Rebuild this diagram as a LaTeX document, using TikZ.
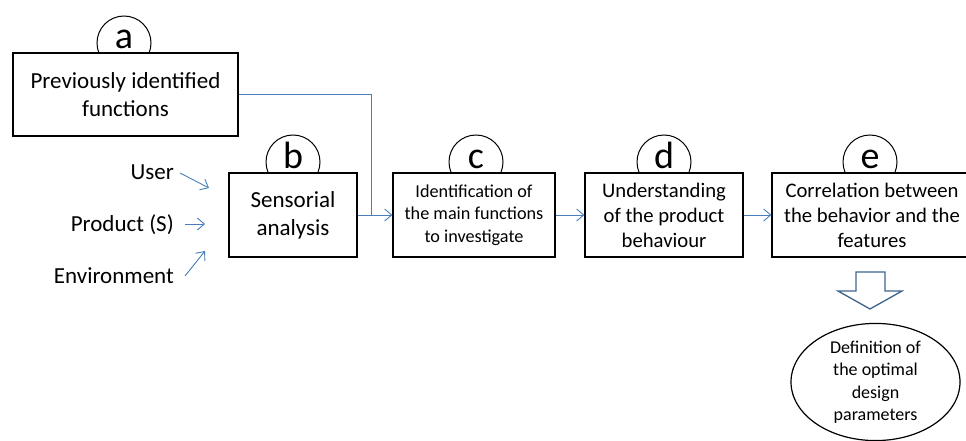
\documentclass[tikz,border=0pt]{standalone}
\usepackage{fontspec}
\setmainfont{Carlito}
\usetikzlibrary{arrows.meta,shapes.geometric}
\definecolor{lineblue}{HTML}{4A7EBB}
\definecolor{darkblue}{HTML}{3F6490}
\begin{document}
\begin{tikzpicture}[x=1pt,y=-1pt,
  box/.style={draw=black,line width=1.3pt,fill=white,rectangle,inner sep=0pt,align=center},
  letter/.style={draw=black,line width=1pt,circle,minimum size=54pt,inner sep=0pt,fill=white},
  lettertext/.style={anchor=base,font=\fontsize{38}{44}\selectfont,inner sep=0pt},
  lbl/.style={anchor=base east,font=\fontsize{23}{28}\selectfont,inner sep=0pt},
  conn/.style={draw=lineblue,line width=0.9pt},
  arr/.style={conn,-{Straight Barb[length=7pt,width=12pt,line width=0.9pt]}}
]
\useasboundingbox (0,0) rectangle (966,441);
% circles (behind boxes)
\node[letter] (ca) at (124,43) {};
\node[letter] (cb) at (293,162) {};
\node[letter] (cc) at (476,162) {};
\node[letter] (cd) at (664,162) {};
\node[letter] (ce) at (870,162) {};
\node[lettertext] (ta) at (124,49) {a};
\node[lettertext] (tb) at (293,168) {b};
\node[lettertext] (tc) at (476,168) {c};
\node[lettertext] (td) at (664,168) {d};
\node[lettertext] (te) at (870,168) {e};
% boxes
\node[box,minimum width=225pt,minimum height=83pt,font=\fontsize{23}{28}\selectfont] (boxa) at (125.5,94.5) {Previously identified\\functions};
\node[box,minimum width=128pt,minimum height=84pt,font=\fontsize{23}{28}\selectfont] (boxb) at (293,215) {Sensorial\\analysis};
\node[box,minimum width=162pt,minimum height=84pt,font=\fontsize{18.2}{22.5}\selectfont] (boxc) at (474,215) {Identification of\\the main functions\\to investigate};
\node[box,minimum width=158pt,minimum height=84pt,font=\fontsize{20.7}{25}\selectfont] (boxd) at (664,215) {Understanding\\of the product\\behaviour};
\node[box,minimum width=200pt,minimum height=84pt,font=\fontsize{20.7}{25}\selectfont] (boxe) at (872,215) {Correlation between\\the behavior and the\\features};
% inputs
\node[lbl] (user) at (174,179.5) {User};
\node[lbl] (prod) at (174,231.5) {Product (S)};
\node[lbl] (env) at (174,283.5) {Environment};
\coordinate (us) at (180,173);
\coordinate (ue) at (209,188);
\coordinate (ps) at (185,224);
\coordinate (pe) at (205,224);
\coordinate (es) at (185,276);
\coordinate (ee) at (205,251);
\draw[arr] (us) -- (ue);
\draw[arr] (ps) -- (pe);
\draw[arr] (es) -- (ee);
% connectors
\coordinate (j) at (371,215);
\draw[conn] (boxa.east) -| (j);
\draw[conn] (boxb.east) -- (j);
\draw[arr] (j) -- (boxc.west);
\draw[arr] (boxc.east) -- (boxd.west);
\draw[arr] (boxd.east) -- (boxe.west);
% block arrow
\draw[darkblue,line width=1.3pt,fill=white,line join=miter] (856,272) -- (885,272) -- (885,291) -- (902,291) -- (870,309) -- (838,291) -- (856,291) -- cycle;
% result ellipse
\node[draw=black,line width=1.2pt,ellipse,minimum width=169pt,minimum height=116pt,inner sep=0pt,align=center,font=\fontsize{18}{22.5}\selectfont] (res) at (875.5,382) {Definition of\\the optimal\\design\\parameters};
\end{tikzpicture}
\end{document}
